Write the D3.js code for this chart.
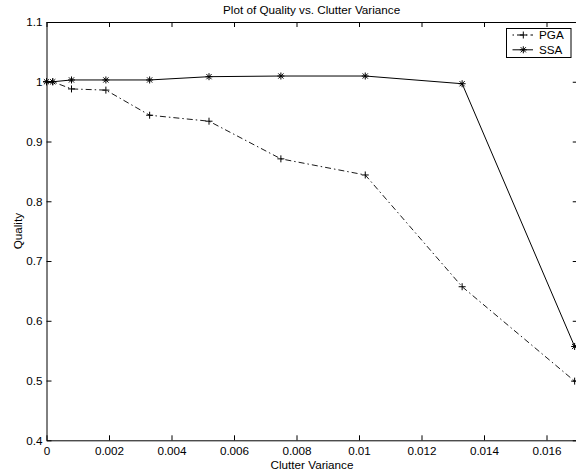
<!DOCTYPE html>
<html>
<head>
<meta charset="utf-8">
<script src="https://cdn.jsdelivr.net/npm/d3@7"></script>
<style>
  body { margin: 0; background: #fff; }
  svg { display: block; font-family: "Liberation Sans", Arial, Helvetica, sans-serif; }
</style>
</head>
<body>
<script>
"use strict";

// data
var variance = [0, 0.0002, 0.0008, 0.0019, 0.0033, 0.0052, 0.0075, 0.0102, 0.0133, 0.0169];
var pga = [1.0, 1.0, 0.988, 0.986, 0.944, 0.934, 0.871, 0.844, 0.657, 0.499];
var ssa = [1.0, 1.0, 1.003, 1.003, 1.003, 1.0085, 1.0096, 1.0096, 0.9967, 0.557];
var xTicks = [0, 0.002, 0.004, 0.006, 0.008, 0.01, 0.012, 0.014, 0.016];
var xTickLabels = ["0", "0.002", "0.004", "0.006", "0.008", "0.01", "0.012", "0.014", "0.016"];
var yTicks = [0.4, 0.5, 0.6, 0.7, 0.8, 0.9, 1.0, 1.1];
var yTickLabels = ["0.4", "0.5", "0.6", "0.7", "0.8", "0.9", "1", "1.1"];
var seriesNames = ["PGA", "SSA"];

function mainChart(){
  var width = 576,
      height = 471;
  var left = 46.5, right = 577.75, top = 22, bottom = 440.3;
  var fontSize = "11.7px";

  var svg = d3.select("body")
            .append("svg")
            .attr("width", width)
            .attr("height", height);

  svg.append("rect")
      .attr("width", width)
      .attr("height", height)
      .attr("fill", "#fff");

  var x = d3.scaleLinear().domain([0, 0.017]).range([left, right]);
  var y = d3.scaleLinear().domain([0.4, 1.1]).range([bottom, top]);

  // axes, ticks pointing inward like matlab
  var gx = svg.append("g")
      .attr("transform", "translate(0," + bottom + ")")
      .call(d3.axisBottom(x).tickValues(xTicks)
          .tickFormat(function(d, i){ return xTickLabels[i]; })
          .tickSizeInner(-5).tickSizeOuter(0).tickPadding(6));
  var gy = svg.append("g")
      .attr("transform", "translate(" + left + ",0)")
      .call(d3.axisLeft(y).tickValues(yTicks)
          .tickFormat(function(d, i){ return yTickLabels[i]; })
          .tickSizeInner(-5).tickSizeOuter(0).tickPadding(4));
  var gt = svg.append("g")
      .attr("transform", "translate(0," + top + ")")
      .call(d3.axisTop(x).tickValues(xTicks).tickFormat("")
          .tickSizeInner(-5).tickSizeOuter(0));
  var gr = svg.append("g")
      .attr("transform", "translate(" + right + ",0)")
      .call(d3.axisRight(y).tickValues(yTicks).tickFormat("")
          .tickSizeInner(-5).tickSizeOuter(0));

  [gx, gy, gt, gr].forEach(function(g){
    g.selectAll("path, line").attr("stroke", "#000").attr("stroke-width", 1);
    g.selectAll("text")
        .attr("fill", "#000")
        .style("font-size", fontSize)
        .style("font-family", "'Liberation Sans', Arial, Helvetica, sans-serif");
  });

  var line = d3.line()
      .x(function(d){ return x(d[0]); })
      .y(function(d){ return y(d[1]); });

  var pgaData = variance.map(function(v, i){ return [v, pga[i]]; });
  var ssaData = variance.map(function(v, i){ return [v, ssa[i]]; });

  var plusPath = "M-3.5,0H3.5M0,-3.5V3.5";
  var starPath = "M-3.5,0H3.5M0,-3.5V3.5M-2.6,-2.6L2.6,2.6M-2.6,2.6L2.6,-2.6";

  var plot = svg.append("g");

  plot.append("path")
      .datum(pgaData)
      .attr("fill", "none")
      .attr("stroke", "#000")
      .attr("stroke-width", 0.9)
      .attr("stroke-dasharray", "6,3,1.5,3")
      .attr("d", line);

  plot.append("path")
      .datum(ssaData)
      .attr("fill", "none")
      .attr("stroke", "#000")
      .attr("stroke-width", 1)
      .attr("d", line);

  plot.selectAll(".pga")
      .data(pgaData).enter()
      .append("path")
        .attr("class", "pga")
        .attr("transform", function(d){ return "translate(" + x(d[0]) + "," + y(d[1]) + ")"; })
        .attr("d", plusPath)
        .attr("stroke", "#000")
        .attr("fill", "none");

  plot.selectAll(".ssa")
      .data(ssaData).enter()
      .append("path")
        .attr("class", "ssa")
        .attr("transform", function(d){ return "translate(" + x(d[0]) + "," + y(d[1]) + ")"; })
        .attr("d", starPath)
        .attr("stroke", "#000")
        .attr("fill", "none");

  // titles
  svg.append("text")
      .attr("x", (left + right) / 2 - 0.5)
      .attr("y", 14)
      .attr("text-anchor", "middle")
      .style("font-size", fontSize)
      .text("Plot of Quality vs. Clutter Variance");

  svg.append("text")
      .attr("x", 312)
      .attr("y", 468.5)
      .attr("text-anchor", "middle")
      .style("font-size", fontSize)
      .text("Clutter Variance");

  svg.append("text")
      .attr("transform", "translate(21.5," + ((top + bottom) / 2) + ") rotate(-90)")
      .attr("text-anchor", "middle")
      .style("font-size", fontSize)
      .text("Quality");

  // legend
  var legend = svg.append("g");
  legend.append("rect")
      .attr("x", 506.5)
      .attr("y", 28.5)
      .attr("width", 64.5)
      .attr("height", 29)
      .attr("fill", "#fff")
      .attr("stroke", "#000");

  var entries = legend.selectAll(".entry")
      .data(seriesNames).enter()
      .append("g")
        .attr("class", "entry")
        .attr("transform", function(d, i){ return "translate(0," + (35 + i * 14.8) + ")"; });

  entries.append("line")
      .attr("x1", 512.5).attr("x2", 533)
      .attr("stroke", "#000")
      .attr("stroke-dasharray", function(d, i){ return i === 0 ? "1.5,3,6,3" : null; });

  entries.append("path")
      .attr("transform", "translate(523.3,0)")
      .attr("d", function(d, i){ return i === 0 ? plusPath : starPath; })
      .attr("stroke", "#000")
      .attr("fill", "none");

  entries.append("text")
      .attr("x", 539)
      .attr("dy", "0.35em")
      .style("font-size", fontSize)
      .text(function(d){ return d; });
}

mainChart();
</script>
</body>
</html>
